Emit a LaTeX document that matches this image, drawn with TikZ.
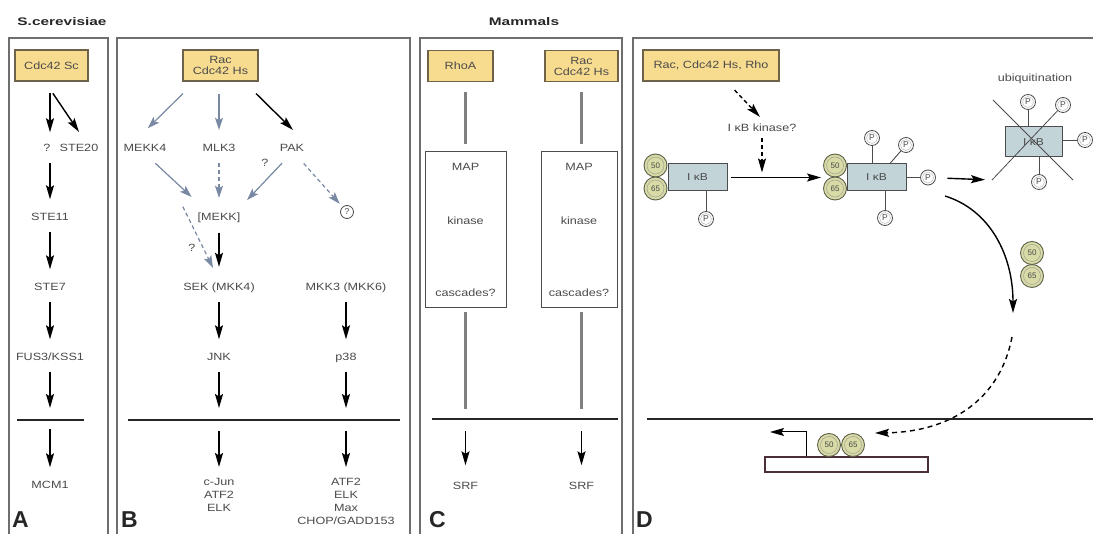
\documentclass[tikz,border=0pt]{standalone}
\usepackage{fontspec}
\usetikzlibrary{arrows.meta,calc}
\newfontfamily\lf[FakeStretch=1.2]{Liberation Sans}
\newfontfamily\tf[FakeStretch=1.4]{Liberation Sans}
\newfontfamily\pf{Liberation Sans}
\definecolor{yfl}{HTML}{F7DB8F}
\definecolor{ybd}{HTML}{6E6248}
\definecolor{tcol}{HTML}{4A4A4A}
\definecolor{bgc}{HTML}{7A89A3}
\definecolor{pgr}{HTML}{6E6E6E}
\definecolor{ibf}{HTML}{C3D4D9}
\definecolor{scf}{HTML}{D8DBA6}
\definecolor{scd}{HTML}{5E604A}
\definecolor{dnac}{HTML}{4A2F36}
\definecolor{gln}{HTML}{808080}
\begin{document}
\begin{tikzpicture}[x=1pt,y=-1pt,
  lab/.style={font=\lf\fontsize{10.5}{12}\selectfont, text=tcol, inner sep=1pt, text height=8pt, text depth=1pt},
  mlab/.style={font=\lf\fontsize{10.5}{13}\selectfont, text=tcol, inner sep=1pt, align=center},
  ybox/.style={draw=ybd, fill=yfl, line width=1.4pt, font=\lf\fontsize{10.5}{11}\selectfont, text=tcol, align=center, inner sep=0pt},
  ttl/.style={font=\tf\bfseries\fontsize{11}{11}\selectfont, text=black!85},
  plet/.style={font=\pf\bfseries\fontsize{23}{23}\selectfont, text=black!85, inner sep=0pt, anchor=base west, text depth=0pt},
  pan/.style={draw=pgr, line width=2pt},
  mem/.style={draw=black!85, line width=1.3pt},
  arr/.style={draw=black, line width=1.4pt, -{Stealth[length=14pt,width=8pt,inset=2.5pt]}},
  garr/.style={draw=bgc, line width=1.2pt, -{Stealth[length=12pt,width=8pt,inset=2.5pt]}},
  va/.style={arr, shorten <=9pt, shorten >=12pt},
  dsh/.style={dash pattern=on 4pt off 3pt},
  gline/.style={draw=gln, line width=2.5pt},
  mapbox/.style={draw=gray!60!black, line width=1pt, inner sep=0pt},
  ib/.style={draw=black!70, fill=ibf, line width=1pt, font=\lf\fontsize{10}{10}\selectfont, text=tcol, inner sep=0pt},
  sc/.style={circle, draw=scd, fill=scf, line width=0.9pt, minimum size=23pt, inner sep=0pt,
    font=\pf\fontsize{8}{8}\selectfont, text=tcol,
    path picture={\draw[scd!60, line width=0.5pt] (path picture bounding box.center) circle (8.5pt);}},
  pc/.style={circle, draw=gray!60!black, fill=white, line width=0.8pt, minimum size=15pt, inner sep=0pt,
    font=\pf\fontsize{8.5}{8.5}\selectfont, text=tcol,
    path picture={\draw[gray!60, line width=0.4pt] (path picture bounding box.center) circle (5.5pt);}},
  st/.style={draw=black!70, line width=0.9pt}
]
\useasboundingbox (0,0) rectangle (1093,534);
\fill[white] (0,0) rectangle (1093,534);

% titles
\node[ttl] (tS) at (62,22) {S.cerevisiae};
\node[ttl] (tM) at (524,22) {Mammals};

% panels
\draw[pan] (9,545) -- (9,38) -- (108,38) -- (108,545);
\draw[pan] (117,545) -- (117,38) -- (410,38) -- (410,545);
\draw[pan] (420,545) -- (420,38) -- (622,38) -- (622,545);
\draw[pan] (633,545) -- (633,38) -- (1100,38);

\node[plet] (lA) at (12,528) {A};
\node[plet] (lB) at (121,528) {B};
\node[plet] (lC) at (429,528) {C};
\node[plet] (lD) at (636,528) {D};

% ---------- Panel A ----------
\node[ybox, minimum width=73pt, minimum height=31pt] (cdcSc) at (51.5,65.5) {Cdc42 Sc};
\node[lab] (qA) at (47,148) {?};
\node[lab] (ste20) at (79,148) {STE20};
\node[lab] (ste11) at (50,217) {STE11};
\node[lab] (ste7) at (50,287) {STE7};
\node[lab] (fus3) at (50,357) {FUS3/KSS1};
\node[lab] (mcm1) at (50,485) {MCM1};
\coordinate (mA) at (50,420);
\draw[mem] (17,420) -- (84,420);
\draw[arr, shorten <=11pt, shorten >=10pt] (cdcSc.south -| ste11) -- (qA.north -| ste11);
\draw[arr, shorten <=14pt, shorten >=12.5pt] ([xshift=-6.5pt]cdcSc.south) -- ([xshift=7pt]ste20.north);
\draw[va] (qA.south -| ste11) -- (ste11);
\draw[va] (ste11) -- (ste7);
\draw[va] (ste7) -- (fus3);
\draw[va] (fus3) -- (mA);
\draw[va] (mA) -- (mcm1);

% ---------- Panel B ----------
\node[ybox, minimum width=75pt, minimum height=31pt] (racB) at (220.5,65.5) {Rac\\Cdc42 Hs};
\node[lab] (mekk4) at (145,148) {MEKK4};
\node[lab] (mlk3) at (219,148) {MLK3};
\node[lab] (pak) at (292,148) {PAK};
\node[lab] (mekk) at (219,217) {[MEKK]};
\node[lab] (qB1) at (265,163) {?};
\node[circle, draw=tcol, line width=0.8pt, minimum size=13pt, inner sep=0pt, font=\pf\fontsize{8.5}{8.5}\selectfont, text=tcol] (qc) at (347,212) {?};
\node[lab] (qB2) at (192,248) {?};
\node[lab] (sek) at (219,287) {SEK (MKK4)};
\node[lab] (mkk3) at (346,287) {MKK3 (MKK6)};
\node[lab] (jnk) at (219,357) {JNK};
\node[lab] (p38) at (346,357) {p38};
\coordinate (mB1) at (219,420);
\coordinate (mB2) at (346,420);
\draw[mem] (128,420) -- (400,420);
\node[mlab, anchor=north] (tg1) at (219,477) {c-Jun\\ATF2\\ELK};
\node[mlab, anchor=north] (tg2) at (346,477) {ATF2\\ELK\\Max\\CHOP/GADD153};

\draw[garr, shorten <=17pt, shorten >=20pt] ([xshift=-25.5pt]racB.south) -- ([xshift=-11.5pt]mekk4.north);
\draw[garr, shorten <=12pt, shorten >=12.5pt] (racB.south -| mlk3) -- (mlk3.north);
\draw[arr, shorten <=17pt, shorten >=17.5pt] ([xshift=23.5pt]racB.south) -- ([xshift=13.5pt]pak.north);
\draw[garr, shorten <=14pt, shorten >=21pt] (mekk4.south) -- ([xshift=-12pt]mekk.north);
\draw[garr, dsh, shorten <=9.5pt, shorten >=13.5pt] (mlk3.south) -- (mekk.north);
\draw[garr, shorten <=13pt, shorten >=15.5pt] ([xshift=-1pt]pak.south) -- ([xshift=17.4pt]mekk.north);
\draw[garr, dsh, shorten <=13pt, shorten >=4pt] ([xshift=3pt]pak.south) -- (qc);
\draw[garr, dsh, shorten <=59pt, shorten >=15pt] ([xshift=11.8pt]mekk4.south) -- ([xshift=0.6pt]sek.north);
\draw[arr, shorten <=10pt, shorten >=14.5pt] (mekk) -- (sek);
\draw[va] (sek) -- (jnk);
\draw[va] (mkk3) -- (p38);
\draw[va] (jnk) -- (mB1);
\draw[va] (p38) -- (mB2);
\draw[arr, shorten <=11pt, shorten >=10pt] (mB1) -- (tg1.north);
\draw[arr, shorten <=11pt, shorten >=10pt] (mB2) -- (tg2.north);

% ---------- Panel C ----------
\node[ybox, minimum width=65pt, minimum height=31pt] (rhoA) at (460.5,66) {RhoA};
\node[ybox, minimum width=73pt, minimum height=31pt] (racC) at (581.5,66) {Rac\\Cdc42 Hs};
\node[mapbox, minimum width=81pt, minimum height=156pt] (mapL) at (465.5,230) {};
\node[mapbox, minimum width=76pt, minimum height=156pt] (mapR) at (579,230) {};
\node[lab] (mapL1) at (465.5,167) {MAP};
\node[lab] (mapL2) at (465.5,221) {kinase};
\node[lab] (mapL3) at (465.5,293) {cascades?};
\node[lab] (mapR1) at (579,167) {MAP};
\node[lab] (mapR2) at (579,221) {kinase};
\node[lab] (mapR3) at (579,293) {cascades?};
\coordinate (mC1) at (465.5,419);
\coordinate (mC2) at (581.5,419);
\draw[mem] (432,419) -- (618,419);
\node[lab] (srf1) at (465.5,486) {SRF};
\node[lab] (srf2) at (581.5,486) {SRF};
\draw[gline, shorten <=9.5pt, shorten >=7pt] (rhoA.south -| mapL.north) -- (mapL.north);
\draw[gline, shorten <=9.5pt, shorten >=7pt] (racC.south) -- (racC.south |- mapR.north);
\draw[gline, shorten <=4pt, shorten >=10pt] (mapL.south) -- (mC1);
\draw[gline, shorten <=4pt, shorten >=10pt] (mapR.south -| racC.south) -- (mC2);
\draw[arr, shorten <=12pt, shorten >=15pt] (mC1) -- (srf1);
\draw[arr, shorten <=12pt, shorten >=15pt] (mC2) -- (srf2);

% ---------- Panel D ----------
\node[ybox, minimum width=136pt, minimum height=31pt] (racD) at (711,65.5) {Rac, Cdc42 Hs, Rho};
\node[lab] (ikk) at (762,128) {I κB kinase?};
% complex 1
\node[ib, minimum width=59pt, minimum height=27pt] (ikbA) at (697.5,177.5) {I κB};
\node[sc] (c50a) at (655.5,165.5) {50};
\node[sc] (c65a) at (655.5,188.5) {65};
\node[pc] (pA) at (706,219) {P};
\draw[st] (ikbA.south -| pA) -- (pA);
% complex 2
\node[ib, minimum width=59pt, minimum height=27pt] (ikbB) at (876.5,177.5) {I κB};
\node[sc] (c50b) at (835,165.5) {50};
\node[sc] (c65b) at (835,188.5) {65};
\node[pc] (pB1) at (872,138) {P};
\node[pc] (pB2) at (906,145) {P};
\node[pc] (pB3) at (928,177.5) {P};
\node[pc] (pB4) at (885,218) {P};
\draw[st] (ikbB.north -| pB1) -- (pB1);
\draw[st] ([xshift=13.5pt]ikbB.north) -- (pB2);
\draw[st] (ikbB.east) -- (pB3);
\draw[st] (ikbB.south -| pB4) -- (pB4);
% arrows
\coordinate (jn) at (ikk |- ikbA.east);
\draw[arr, shorten <=3pt, shorten >=2pt] (ikbA.east) -- (ikbA.east -| c50b.west);
\draw[arr, dsh, shorten <=11.5pt, shorten >=7.4pt] ([xshift=15.7pt]racD.south) -- ([xshift=3pt]ikk.north);
\draw[arr, dsh, shorten <=4.5pt, shorten >=5pt] (ikk) -- (jn);
% complex 3
\node[lab] (ubq) at (1035,78) {ubiquitination};
\node[ib, minimum width=57pt, minimum height=30pt] (ikbC) at (1033.5,142) {I κB};
\node[pc] (pC1) at (1028,102) {P};
\node[pc] (pC2) at (1063,105) {P};
\node[pc] (pC3) at (1085,140) {P};
\node[pc] (pC4) at (1039,182) {P};
\draw[st] (ikbC.north -| pC1) -- (pC1);
\draw[st] (ikbC.east |- pC3) -- (pC3);
\draw[st] (ikbC.south -| pC4) -- (pC4);
\coordinate (xa) at (993,100);
\coordinate (xb) at (1073,180);
\coordinate (xl) at (992,180);
\draw[st, line width=0.8pt] (xa) -- (xb);
\draw[st, line width=0.8pt] (xl) -- (pC2);
\draw[arr, shorten <=11.5pt, shorten >=7pt] (pB3) -- (xl);
% release
\coordinate (cvS) at (945,196);
\coordinate (cvE) at (1013,313);
\draw[arr] (cvS) .. controls (990,210) and (1013,255) .. (cvE);
\node[sc] (c50c) at (1032,253) {50};
\node[sc] (c65c) at (1032,276) {65};
\coordinate (dS) at (1012,337);
\coordinate (dE) at (875,433);
\draw[arr, dash pattern=on 5pt off 4pt] (dS) .. controls (1000,400) and (950,432) .. (dE);
% nucleus
\draw[mem] (647,419) -- (1093,419);
\node[draw=dnac, line width=1.2pt, minimum width=163pt, minimum height=15pt, inner sep=0pt] (dna) at (846.5,464.5) {};
\node[sc] (c50d) at (829,445) {50};
\node[sc] (c65d) at (853,445) {65};
\coordinate (tss) at (770,432);
\draw[arr, line width=1pt] ([xshift=-40.5pt]dna.north) |- (tss);
\end{tikzpicture}
\end{document}
